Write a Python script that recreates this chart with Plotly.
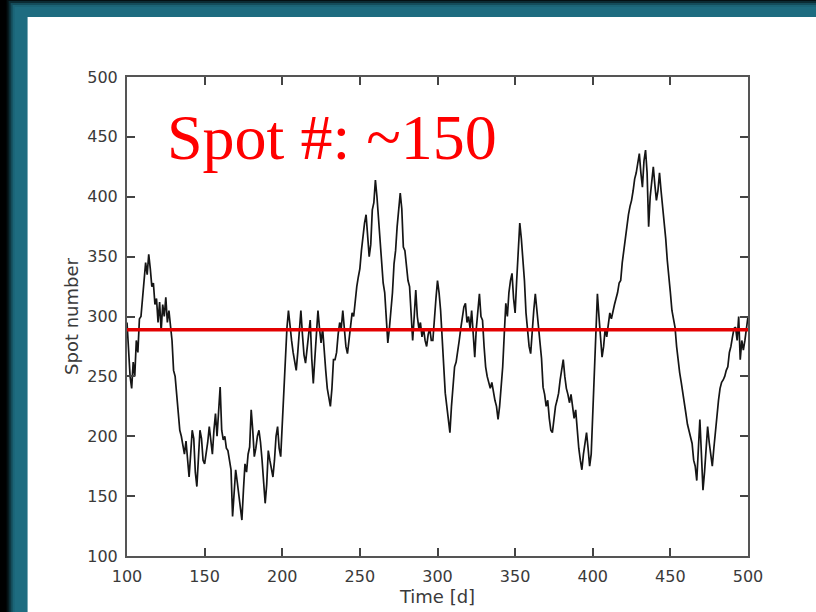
import plotly.graph_objects as go

# Daily spot count of the simulated star, days 100..500
days = list(range(100, 501))
spots = [
    295, 270, 250, 240, 262, 250, 280, 270, 298, 300,
    315, 330, 345, 335, 352, 340, 325, 328, 310, 315,
    295, 312, 288, 310, 300, 316, 295, 305, 290, 280,
    255, 250, 235, 220, 205, 200, 192, 185, 196, 178,
    166, 185, 205, 198, 170, 158, 185, 205, 198, 180,
    177, 185, 195, 208, 198, 185, 205, 219, 200, 225,
    241, 205, 197, 200, 190, 188, 180, 172, 133, 150,
    172, 162, 150, 140, 130, 155, 177, 170, 185, 191,
    222, 205, 183, 190, 200, 205, 195, 180, 165, 144,
    160, 188, 180, 172, 166, 180, 200, 208, 190, 183,
    210, 225, 260, 290, 305, 290, 280, 270, 262, 255,
    270, 290, 305, 285, 268, 261, 275, 285, 297, 265,
    244, 265, 290, 305, 290, 278, 290, 270, 255, 240,
    232, 225, 240, 264, 264, 270, 285, 295, 290, 305,
    290, 275, 269, 280, 290, 303, 300, 315, 325, 333,
    340, 355, 370, 378, 385, 365, 350, 360, 389, 395,
    414, 400, 380, 364, 345, 328, 320, 300, 278, 290,
    303, 320, 344, 355, 375, 390, 403, 390, 358, 355,
    340, 330, 325, 300, 280, 300, 322, 300, 290, 295,
    283, 290, 280, 275, 285, 290, 280, 280, 300, 315,
    330, 320, 305, 280, 255, 236, 225, 215, 203, 225,
    245, 258, 262, 270, 280, 290, 300, 308, 311, 295,
    300, 290, 305, 285, 266, 290, 305, 319, 300, 297,
    275, 258, 250, 245, 240, 245, 236, 230, 225, 214,
    225, 240, 258, 285, 311, 300, 320, 330, 336, 315,
    303, 330, 350, 378, 365, 347, 330, 303, 290, 275,
    269, 290, 305, 319, 305, 294, 280, 265, 241, 235,
    225, 230, 215, 205, 203, 215, 225, 230, 236, 247,
    255, 264, 250, 240, 235, 228, 235, 225, 215, 222,
    205, 190, 180, 172, 185, 195, 203, 190, 175, 185,
    219, 250, 280, 319, 300, 285, 266, 275, 290, 283,
    295, 303, 298, 305, 310, 315, 320, 328, 330, 345,
    355, 367, 375, 385, 392, 397, 405, 415, 420, 430,
    436, 420, 408, 430, 439, 420, 375, 400, 415, 425,
    410, 397, 405, 420, 405, 392, 380, 365, 347, 335,
    320, 305, 298, 291, 275, 262, 253, 245, 235, 225,
    219, 210, 205, 200, 194, 180, 175, 163, 190, 214,
    185, 155, 170, 190, 208, 195, 185, 175, 190, 205,
    222, 230, 240, 245, 247, 250, 255, 258, 270, 275,
    283, 290, 291, 280, 300, 264, 280, 272, 280, 290,
    300,
]

# Mean level line
mean_days = [100, 500]
mean_level = [289, 289]

x_ticks = [100, 150, 200, 250, 300, 350, 400, 450, 500]
y_ticks = [100, 150, 200, 250, 300, 350, 400, 450, 500]

W, H = 816, 612
L, R, T, B = 126.5, 68, 77, 56
PW, PH = W - L - R, H - T - B


def px(x):
    return (x - L) / PW


def py(y):
    return (H - B - y) / PH


fig = go.Figure()
fig.add_trace(go.Scatter(
    x=days, y=spots, mode="lines",
    line=dict(color="#151515", width=1.7),
    showlegend=False, hoverinfo="skip",
))
fig.add_trace(go.Scatter(
    x=mean_days, y=mean_level, mode="lines",
    line=dict(color="#e30000", width=3.5),
    showlegend=False, hoverinfo="skip",
))

# Slide frame: black background, teal glowing border, white panel
shapes = []
teal = "30,108,128"
for inset, op in [(6, 0.15), (8, 0.3), (10, 0.5), (12, 0.75), (14, 1.0)]:
    shapes.append(dict(
        type="rect", xref="paper", yref="paper", layer="below",
        x0=px(inset), x1=px(W + 20), y0=py(inset - 7), y1=py(H + 20),
        fillcolor=f"rgba({teal},{op})", line=dict(width=0),
    ))
shapes.append(dict(
    type="rect", xref="paper", yref="paper", layer="below",
    x0=px(27), x1=px(W + 20), y0=py(17), y1=py(H + 20),
    fillcolor="white", line=dict(width=0),
))

fig.update_layout(
    width=W, height=H,
    margin=dict(l=L, r=R, t=T, b=B, pad=0),
    paper_bgcolor="black",
    plot_bgcolor="white",
    shapes=shapes,
    font=dict(family="DejaVu Sans", color="#3a3a3a", size=16),
    annotations=[dict(
        text="Spot #: ~150", x=px(332), y=py(137),
        xref="paper", yref="paper", xanchor="center", yanchor="middle",
        showarrow=False,
        font=dict(family="Liberation Serif", size=64, color="#ff0000"),
    )],
)

axis_common = dict(
    showgrid=False, zeroline=False,
    showline=True, linecolor="#555555", linewidth=2,
    mirror="ticks", ticks="inside", ticklen=8, tickwidth=1.5,
    tickcolor="#444444",
    tickfont=dict(family="DejaVu Sans", size=16, color="#3a3a3a"),
)
fig.update_xaxes(
    range=[100, 500], tickvals=x_ticks, ticktext=[str(v) for v in x_ticks],
    title=dict(text="Time [d]", font=dict(size=18, color="#3a3a3a"), standoff=0),
    ticklabelstandoff=5,
    **axis_common,
)
fig.update_yaxes(
    range=[100, 500], tickvals=y_ticks, ticktext=[str(v) for v in y_ticks],
    title=dict(text="Spot number", font=dict(size=18, color="#3a3a3a"), standoff=4),
    ticklabelstandoff=4,
    **axis_common,
)

fig.write_html("out.html")
